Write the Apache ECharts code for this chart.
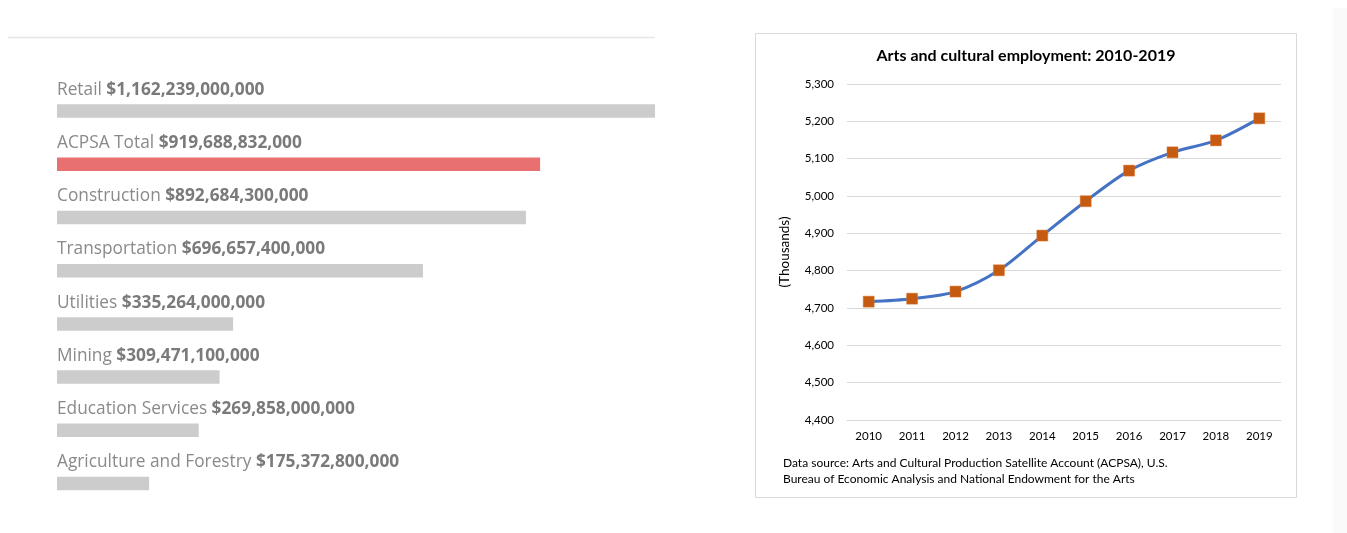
<!DOCTYPE html>
<html>
<head>
<meta charset="utf-8">
<script src="https://cdn.jsdelivr.net/npm/echarts@6/dist/echarts.min.js"></script>
<style>
html,body{margin:0;padding:0;background:#fff;}
#main{width:1347px;height:533px;}
</style>
</head>
<body>
<div id="main"></div>
<script>
// Left: industry value added (dollars)
const industries = ["Retail", "ACPSA Total", "Construction", "Transportation", "Utilities", "Mining", "Education Services", "Agriculture and Forestry"];
const industryValues = [1162239000000, 919688832000, 892684300000, 696657400000, 335264000000, 309471100000, 269858000000, 175372800000];
const highlightIndustry = "ACPSA Total";

// Right: arts and cultural employment (thousands)
const years = ["2010", "2011", "2012", "2013", "2014", "2015", "2016", "2017", "2018", "2019"];
const employment = [4717, 4725, 4744, 4801, 4894, 4986, 5068, 5117, 5149, 5208];
const yTicks = [4400, 4500, 4600, 4700, 4800, 4900, 5000, 5100, 5200, 5300];

const chartTitle = "Arts and cultural employment: 2010-2019";
const yAxisName = "(Thousands)";
const sourceLines = ["Data source: Arts and Cultural Production Satellite Account (ACPSA), U.S.", "Bureau of Economic Analysis and National Endowment for the Arts"];

function fmtDollars(v){ return "$" + v.toLocaleString("en-US"); }

const chart = echarts.init(document.getElementById('main'), null, {renderer: 'canvas'});
const excelFont = "Lato, 'Liberation Sans', sans-serif";
const leftFont = "'Open Sans', 'Noto Sans', sans-serif";

chart.setOption({
  backgroundColor: '#ffffff',
  animation: false,
  title: {
    text: chartTitle,
    left: 1021, top: 43, textAlign: 'center',
    textStyle: {fontFamily: excelFont, fontSize: 16, fontWeight: 'bold', color: '#000'}
  },
  graphic: [
    {type: 'rect', shape: {x: 1333, y: 8, width: 14, height: 525}, style: {fill: '#fafafa'}, z: -10},
    {type: 'line', shape: {x1: 8, y1: 37.5, x2: 655, y2: 37.5}, style: {stroke: '#e6e6e6', lineWidth: 1.5}},
    {type: 'rect', shape: {x: 755.5, y: 33.5, width: 541, height: 464}, style: {fill: 'none', stroke: '#d9d9d9', lineWidth: 1}},
    {type: 'text', x: 783, y: 455, style: {text: sourceLines.join('\n'), font: "12px " + excelFont, fill: '#000', lineHeight: 16}}
  ],
  grid: [
    {left: 57, width: 598, top: 84.5, height: 425.6},
    {left: 847, right: 66, top: 84, height: 336}
  ],
  xAxis: [
    {gridIndex: 0, type: 'value', min: 0, max: 1138400000000, show: false},
    {gridIndex: 1, type: 'category', data: years, boundaryGap: true,
     axisLine: {show: true, lineStyle: {color: '#d9d9d9'}}, axisTick: {show: false},
     axisLabel: {color: '#000', fontFamily: excelFont, fontSize: 11.5, margin: 10}}
  ],
  yAxis: [
    {gridIndex: 0, type: 'category', data: industries, inverse: true, show: false},
    {gridIndex: 1, type: 'value', min: yTicks[0], max: yTicks[yTicks.length-1], interval: 100,
     name: yAxisName, nameLocation: 'middle', nameGap: 55, nameRotate: 90,
     nameTextStyle: {color: '#000', fontFamily: excelFont, fontSize: 13.5},
     axisLine: {show: false}, axisTick: {show: false},
     splitLine: {lineStyle: {color: '#d9d9d9'}},
     axisLabel: {color: '#000', fontFamily: excelFont, fontSize: 11.5, margin: 13,
       formatter: v => v.toLocaleString('en-US')}}
  ],
  series: [
    {
      type: 'bar', xAxisIndex: 0, yAxisIndex: 0, barWidth: 13.5, clip: true,
      data: industries.map((n, i) => ({value: industryValues[i],
        itemStyle: {color: n === highlightIndustry ? '#e87070' : '#cccccc'}})),
      label: {
        show: true, position: [0, -23],
        formatter: p => '{n|' + p.name + ' }{v|' + fmtDollars(p.value) + '}',
        rich: {
          n: {fontFamily: leftFont, fontSize: 17.3, color: '#8a8a8a'},
          v: {fontFamily: leftFont, fontSize: 17.3, fontWeight: 'bold', color: '#7a7a7a'}
        }
      }
    },
    {
      type: 'line', xAxisIndex: 1, yAxisIndex: 1, data: employment, smooth: 0.3,
      lineStyle: {color: '#4472c4', width: 3},
      symbol: 'rect', symbolSize: 11,
      itemStyle: {color: '#c55a11', borderColor: '#e07a30', borderWidth: 0.5}
    }
  ]
});
</script>
</body>
</html>
